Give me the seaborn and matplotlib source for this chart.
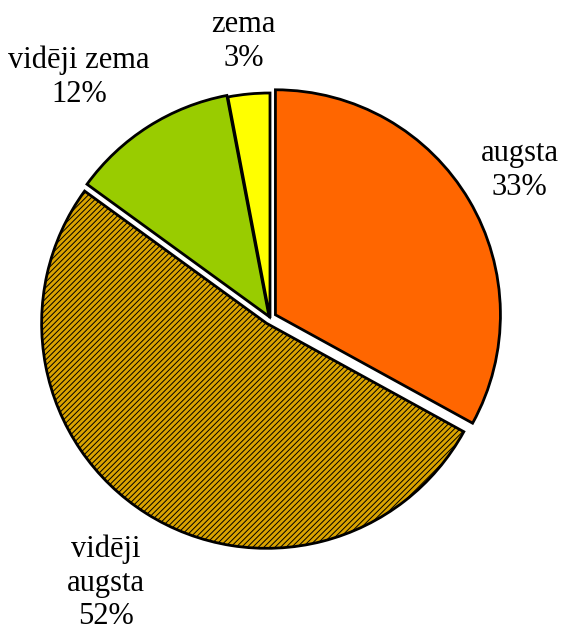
import numpy as np
import matplotlib
matplotlib.use("Agg")
import matplotlib.pyplot as plt
import seaborn as sns

# Share of respondents by level
categories = ["augsta", "vidēji augsta", "vidēji zema", "zema"]
label_lines = ["augsta", "vidēji\naugsta", "vidēji zema", "zema"]
shares = [33, 52, 12, 3]
colors = ["#FF6600", "#D9A300", "#99CC00", "#FFFF00"]
hatches = [None, "//////", None, None]
explode = [0.028, 0.028, 0.008, 0.0]
label_dist = [1.29, 1.385, 1.365, 1.235]
label_turn = [0.0, 0.6, 6.0, 0.0]   # degrees, nudges labels along the circle

sns.set_theme(style="white")
plt.rcParams["font.family"] = ["Liberation Serif", "DejaVu Serif"]
plt.rcParams["hatch.linewidth"] = 0.7

W, H, dpi = 563, 634, 100
fig = plt.figure(figsize=(W / dpi, H / dpi), dpi=dpi)
ax = fig.add_axes([0, 0, 1, 1])

wedges, _ = ax.pie(
    shares,
    colors=colors,
    explode=explode,
    startangle=90,
    counterclock=False,
    wedgeprops=dict(edgecolor="black", linewidth=2),
)
for w, h in zip(wedges, hatches):
    if h:
        w.set_hatch(h)

for w, txt, pct, d, t in zip(wedges, label_lines, shares, label_dist, label_turn):
    mid = np.deg2rad((w.theta1 + w.theta2) / 2 + t)
    ax.text(d * np.cos(mid), d * np.sin(mid), f"{txt}\n{pct}%",
            ha="center", va="center", fontsize=22, linespacing=1.22,
            color="black")

# pixel scale: radius 1 -> 225 px, centre at (270, 318) from top-left
s = 225.0
cx, cy = 270.0, 318.0
ax.set_aspect("auto")
ax.set_xlim(-cx / s, (W - cx) / s)
ax.set_ylim(-(H - cy) / s, cy / s)
ax.axis("off")

fig.savefig("out.png", dpi=dpi, facecolor="white")
